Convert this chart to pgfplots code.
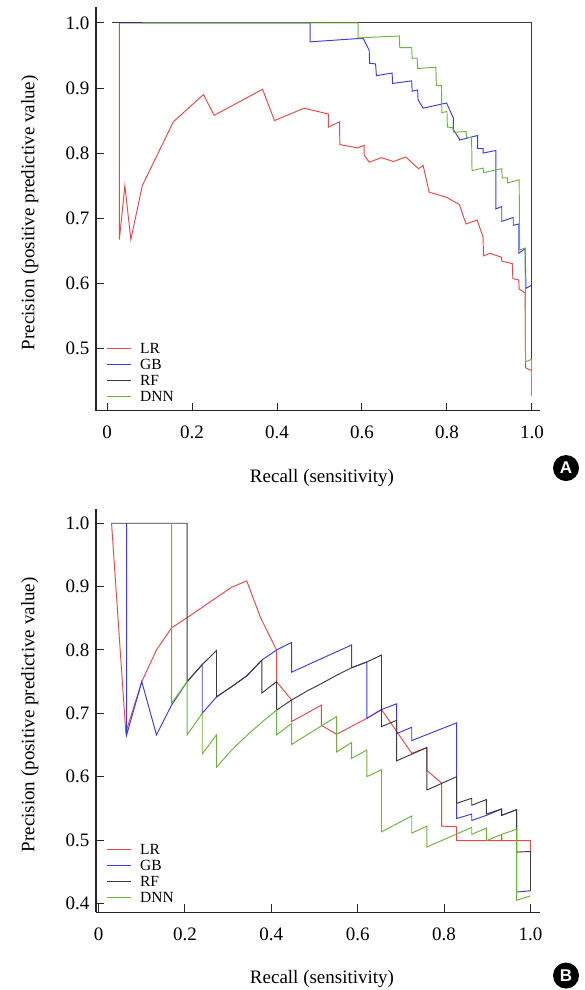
\documentclass[border=0pt]{standalone}
\usepackage{fontspec}
\setmainfont{Liberation Serif}
\newfontfamily\lsans{Liberation Sans}
\usepackage{pgfplots}
\pgfplotsset{compat=1.18}
\definecolor{cLR}{HTML}{E84848}
\definecolor{cGB}{HTML}{3C3CE6}
\definecolor{cRF}{HTML}{3A3A3A}
\definecolor{cDNN}{HTML}{6DB33F}
\pgfplotsset{prstyle/.style={
  width=444pt, height=404pt, scale only axis,
  axis lines=left, axis line style={-, line width=1.2pt, color=black!85},
  tick align=inside, major tick length=8pt, tick style={line width=1pt, color=black!85},
  xtick={0,0.2,0.4,0.6,0.8,1.0}, xticklabels={0,0.2,0.4,0.6,0.8,1.0},
  /pgf/number format/assume math mode=true,
  ticklabel style={font=\fontsize{19}{22}\selectfont},
  xticklabel style={yshift=-12pt},
  yticklabel style={xshift=-3pt},
  label style={font=\fontsize{19}{22}\selectfont},
  xlabel={Recall (sensitivity)},
  ylabel={Precision (positive predictive value)},
  xlabel style={at={(axis description cs:0.509,-0.166)}, anchor=center},
  ylabel style={at={(axis description cs:-0.149,0.49)}, anchor=center},
  clip=false,
  legend cell align=left,
  legend style={at={(axis description cs:0.0236,0.016)}, anchor=south west, draw=none, fill=none,
    font=\fontsize{15.5}{18}\selectfont, row sep=0pt, inner sep=0pt,
    nodes={inner sep=1.5pt, text height=11.5pt, text depth=1.5pt}},
  /tikz/every odd column/.append style={column sep=7pt},
  legend image code/.code={\draw[#1] (0pt,0pt) -- (24pt,0pt);},
  every axis plot/.append style={line width=0.95pt},
}}
\begin{document}
\begin{tikzpicture}
\path[use as bounding box] (-96pt,410.7pt) rectangle (488pt,-579.3pt);
% ---------------- Panel A ----------------
\begin{axis}[prstyle, at={(0pt,0pt)}, anchor=south west,
  xmin=-0.026, xmax=1.019, ymin=0.404, ymax=1.025,
  ytick={0.5,0.6,0.7,0.8,0.9,1.0}, yticklabels={0.5,0.6,0.7,0.8,0.9,1.0}]
\addplot[cLR] coordinates {
(0.029,1.0) (0.029,0.667) (0.042,0.75) (0.056,0.667) (0.083,0.75) (0.156,0.848)
(0.227,0.890) (0.252,0.858) (0.366,0.898) (0.394,0.850) (0.464,0.869) (0.521,0.860)
(0.521,0.840) (0.547,0.848) (0.548,0.813) (0.590,0.808) (0.605,0.812) (0.605,0.797)
(0.617,0.786) (0.646,0.793) (0.674,0.787) (0.703,0.794) (0.733,0.776) (0.744,0.781)
(0.758,0.740) (0.799,0.732) (0.829,0.721) (0.845,0.691) (0.871,0.697) (0.885,0.671)
(0.886,0.642) (0.901,0.646) (0.928,0.640) (0.929,0.634) (0.954,0.630) (0.955,0.607)
(0.969,0.605) (0.970,0.591) (0.984,0.585) (0.985,0.470) (0.998,0.466)};
\addlegendentry{LR}
\addplot[cGB] coordinates {
(0.03,1.0) (0.478,1.0) (0.478,0.971) (0.591,0.976) (0.603,0.976) (0.617,0.958)
(0.618,0.938) (0.632,0.937) (0.634,0.919) (0.671,0.923) (0.672,0.907) (0.717,0.911)
(0.718,0.895) (0.731,0.897) (0.732,0.882) (0.744,0.869) (0.799,0.877) (0.815,0.854)
(0.815,0.836) (0.829,0.822) (0.829,0.820) (0.842,0.822) (0.872,0.827) (0.872,0.807)
(0.885,0.807) (0.885,0.800) (0.915,0.804) (0.915,0.714) (0.929,0.718) (0.929,0.695)
(0.956,0.701) (0.956,0.689) (0.969,0.691) (0.969,0.646) (0.984,0.653) (0.986,0.592)
(0.999,0.597)};
\addlegendentry{GB}
\addplot[cRF] coordinates {(0.0125,1.0) (1.0,1.0) (1.0,0.482)};
\addlegendentry{RF}
\addplot[cDNN] coordinates {
(0.083,1.0) (0.591,1.0) (0.591,0.977) (0.688,0.980) (0.689,0.962) (0.717,0.962)
(0.718,0.946) (0.730,0.946) (0.731,0.930) (0.774,0.932) (0.775,0.904) (0.787,0.904)
(0.788,0.862) (0.800,0.864) (0.801,0.840) (0.814,0.839) (0.815,0.832) (0.845,0.833)
(0.846,0.824) (0.858,0.824) (0.859,0.773) (0.885,0.777) (0.886,0.770) (0.929,0.776)
(0.930,0.762) (0.942,0.762) (0.943,0.754) (0.970,0.759) (0.971,0.651) (0.984,0.654)
(0.985,0.479) (0.999,0.483) (0.999,0.426)};
\addlegendentry{DNN}
\node[circle, fill=black, text=white, minimum size=26pt, inner sep=0pt,
  font=\lsans\bfseries\fontsize{17}{17}\selectfont] at (axis description cs:1.0586,-0.142) {A};
\end{axis}
% ---------------- Panel B ----------------
\begin{axis}[prstyle, at={(0pt,-501.6pt)}, anchor=south west,
  xmin=-0.006, xmax=1.022, ymin=0.386, ymax=1.022, height=403pt,
  ytick={0.4,0.5,0.6,0.7,0.8,0.9,1.0}, yticklabels={0.4,0.5,0.6,0.7,0.8,0.9,1.0}]
\addplot[cLR] coordinates {
(0.030,1.0) (0.063,0.670) (0.100,0.750) (0.134,0.800) (0.169,0.835) (0.205,0.851)
(0.308,0.899) (0.343,0.909) (0.375,0.851) (0.412,0.800) (0.412,0.750) (0.447,0.721)
(0.447,0.687) (0.516,0.713) (0.516,0.681) (0.551,0.667) (0.621,0.692) (0.655,0.706)
(0.725,0.637) (0.760,0.646) (0.760,0.610) (0.794,0.590) (0.794,0.522) (0.829,0.521)
(0.829,0.499) (0.933,0.499) (0.933,0.509) (0.934,0.499) (1.0,0.499) (1.0,0.481)};
\addlegendentry{LR}
\addplot[cGB] coordinates {
(0.065,1.0) (0.065,0.666) (0.100,0.750) (0.134,0.666) (0.169,0.713) (0.205,0.750)
(0.240,0.777) (0.240,0.700) (0.273,0.726) (0.308,0.742) (0.343,0.759) (0.378,0.784)
(0.412,0.800) (0.447,0.812) (0.447,0.765) (0.586,0.808) (0.586,0.772) (0.621,0.781)
(0.621,0.692) (0.655,0.706) (0.690,0.715) (0.690,0.668) (0.725,0.678) (0.725,0.657)
(0.829,0.685) (0.829,0.534) (0.864,0.541) (0.864,0.531) (0.898,0.539) (0.933,0.549)
(0.933,0.539) (0.968,0.548) (0.968,0.418) (1.0,0.420)};
\addlegendentry{GB}
\addplot[cRF] coordinates {
(0.030,1.0) (0.205,1.0) (0.205,0.750) (0.240,0.777) (0.273,0.799) (0.273,0.726)
(0.308,0.742) (0.343,0.759) (0.378,0.784) (0.378,0.732) (0.412,0.750) (0.412,0.705)
(0.447,0.721) (0.482,0.735) (0.516,0.747) (0.551,0.760) (0.586,0.772) (0.621,0.781)
(0.655,0.792) (0.655,0.679) (0.690,0.689) (0.690,0.625) (0.760,0.646) (0.760,0.579)
(0.829,0.600) (0.829,0.558) (0.864,0.566) (0.864,0.555) (0.898,0.564) (0.898,0.541)
(0.933,0.549) (0.933,0.539) (0.968,0.548) (0.968,0.481) (1.0,0.482) (1.0,0.420)};
\addlegendentry{RF}
\addplot[cDNN] coordinates {
(0.169,1.0) (0.169,0.716) (0.205,0.750) (0.205,0.666) (0.240,0.700) (0.240,0.636)
(0.273,0.666) (0.273,0.615) (0.308,0.642) (0.343,0.665) (0.378,0.686) (0.412,0.705)
(0.412,0.666) (0.447,0.684) (0.447,0.651) (0.551,0.695) (0.551,0.639) (0.586,0.654)
(0.586,0.629) (0.621,0.642) (0.621,0.600) (0.655,0.611) (0.655,0.513) (0.725,0.538)
(0.725,0.511) (0.760,0.522) (0.760,0.489) (0.864,0.520) (0.864,0.509) (0.898,0.519)
(0.898,0.499) (0.933,0.509) (0.968,0.517) (0.968,0.405) (1.0,0.412)};
\addlegendentry{DNN}
\node[circle, fill=black, text=white, minimum size=26pt, inner sep=0pt,
  font=\lsans\bfseries\fontsize{17}{17}\selectfont] at (axis description cs:1.0586,-0.157) {B};
\end{axis}
\end{tikzpicture}
\end{document}
